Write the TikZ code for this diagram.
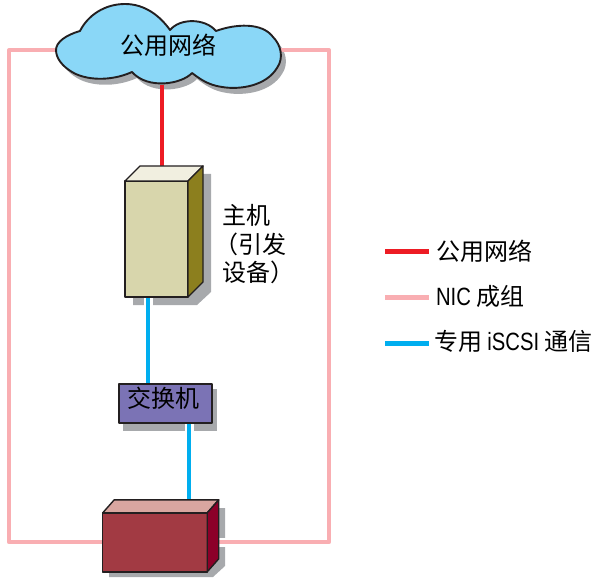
\documentclass[tikz,border=0pt]{standalone}
\usepackage{fontspec}
\setmainfont{Noto Sans CJK SC}
\newfontfamily\latinnarrow[FakeStretch=0.81]{Liberation Sans}
\newcommand{\latintext}[1]{{\latinnarrow\fontsize{25}{25}\selectfont #1}}
\pgfdeclarelayer{shad}
\pgfdeclarelayer{halo}
\pgfdeclarelayer{conn}
\pgfsetlayers{shad,halo,conn,main}
\definecolor{shadowc}{HTML}{A7A9AC}
\definecolor{cloudc}{HTML}{8AD7F7}
\definecolor{redc}{HTML}{ED1C24}
\definecolor{pinkc}{HTML}{F9AEB2}
\definecolor{bluec}{HTML}{00AEEF}
\definecolor{hostf}{HTML}{D8D6AC}
\definecolor{hostt}{HTML}{F1EFE0}
\definecolor{hosts}{HTML}{8C7F1E}
\definecolor{swf}{HTML}{7B73B5}
\definecolor{stf}{HTML}{A23A43}
\definecolor{stt}{HTML}{D9A6A0}
\definecolor{sts}{HTML}{8C0029}
\definecolor{edge}{HTML}{231F20}
\tikzset{
  x=1pt,y=-1pt,
  face/.style={draw=edge,line width=1.4pt,line join=round},
  boxnode/.style={face,inner sep=0pt,outer sep=0pt},
  pinkline/.style={draw=pinkc,line width=4pt,line join=round},
  redline/.style={draw=redc,line width=4.5pt},
  blueline/.style={draw=bluec,line width=4.5pt},
  halol/.style={draw=white,line width=9pt},
  label/.style={inner sep=0pt,outer sep=0pt,font=\fontsize{24}{24}\selectfont},
  legendlabel/.style={label,anchor=west},
  legendline/.style={line width=5pt},
}
\begin{document}
\begin{tikzpicture}
\useasboundingbox (0,0) rectangle (593,577);
% cloud
\def\cloudpath{(56,50)
  .. controls (56,42) and (66,35) .. (80,31)
  .. controls (88,15) and (105,4) .. (125,4)
  .. controls (145,4) and (160,16) .. (170,30)
  .. controls (180,18) and (205,18) .. (216,31)
  .. controls (235,24) and (262,22) .. (273,37)
  .. controls (281,45) and (284,58) .. (277,68)
  .. controls (266,86) and (240,90) .. (222,87)
  .. controls (208,85) and (200,79) .. (192,73)
  .. controls (182,84) and (148,90) .. (132,72)
  .. controls (110,82) and (85,80) .. (72,72)
  .. controls (62,66) and (56,58) .. (56,50) -- cycle}
\begin{pgfonlayer}{shad}
  \begin{scope}[shift={(5,6)}]
    \fill[shadowc] \cloudpath;
  \end{scope}
\end{pgfonlayer}
\draw[face,fill=cloudc,line width=1.9pt] \cloudpath;
\node[label] (cloudn) at (168,45) {公用网络};
\coordinate (pl) at (60,50);
\coordinate (pr) at (276,50);
\coordinate (lx) at (9,300);
\coordinate (rx) at (329,300);
\coordinate (redx) at (162,85);
\coordinate (bluex) at (148,300);
\coordinate (blueb) at (189,450);

% host
\node[boxnode,fill=hostf,minimum width=63pt,minimum height=116pt] (host) at (156.5,239) {};
\draw[face,fill=hostt] (host.north west) -- ++(15,-15) -- ++(63,0) -- (host.north east) -- cycle;
\draw[face,fill=hosts] (host.north east) -- ++(15,-15) -- ++(0,116) -- (host.south east) -- cycle;
\begin{pgfonlayer}{shad}
  \fill[shadowc] (203,174) -- (211,174) -- (211,292) -- (197,305) -- (133,305) -- (133,290) -- (203,280) -- cycle;
\end{pgfonlayer}
\node[label,anchor=west] (hostl1) at (222,215) {主机};
\node[label,anchor=west] (hostl2) at (214,244) {（引发};
\node[label,anchor=west] (hostl3) at (222,272) {设备）};

% switch
\node[boxnode,fill=swf,minimum width=93pt,minimum height=39pt] (sw) at (165.3,403.5) {};
\node[label] (swl) at (163,398) {交换机};
\begin{pgfonlayer}{shad}
  \fill[shadowc] (123,410) rectangle (217,431);
  \fill[shadowc] (205,389) rectangle (217,431);
\end{pgfonlayer}

% storage
\node[boxnode,fill=stf,minimum width=104.5pt,minimum height=59pt] (store) at (155,542.3) {};
\draw[face,fill=stt] (store.north west) -- ++(11.5,-13) -- ++(104.5,0) -- (store.north east) -- cycle;
\draw[face,fill=sts] (store.north east) -- ++(11.5,-13) -- ++(0,59) -- (store.south east) -- cycle;
\begin{pgfonlayer}{shad}
  \fill[shadowc] (212,508) -- (225,508) -- (225,566) -- (213,577) -- (109,577) -- (109,560) -- (212,560) -- cycle;
\end{pgfonlayer}

% connectors
\begin{pgfonlayer}{halo}
  \draw[halol] (bluex |- host.south) -- (bluex |- sw.north);
  \draw[halol] (blueb |- sw.south) -- (blueb |- store.north);
  \draw[halol] (store.east) -- (rx |- store.east);
\end{pgfonlayer}
\begin{pgfonlayer}{conn}
  \draw[pinkline] (pl) -| (lx) |- (store.west);
  \draw[pinkline] (pr) -| (rx) |- (store.east);
  \draw[redline] (redx) -- (redx |- host.north);
  \draw[blueline] (bluex |- host.south) -- (bluex |- sw.north);
  \draw[blueline] (blueb |- sw.south) -- (blueb |- store.north);
\end{pgfonlayer}

% legend
\coordinate (la1) at (385,251);
\coordinate (lb1) at (429,251);
\coordinate (la2) at (385,297);
\coordinate (lb2) at (429,297);
\coordinate (la3) at (385,343);
\coordinate (lb3) at (429,343);
\draw[legendline,draw=redc] (la1) -- (lb1);
\draw[legendline,draw=pinkc] (la2) -- (lb2);
\draw[legendline,draw=bluec] (la3) -- (lb3);
\node[legendlabel] (lt1) at (436,251) {公用网络};
\node[legendlabel] (lt2) at (436,296) {\latintext{NIC} 成组};
\node[legendlabel] (lt3) at (434,341) {专用 \latintext{iSCSI} 通信};
\end{tikzpicture}
\end{document}
